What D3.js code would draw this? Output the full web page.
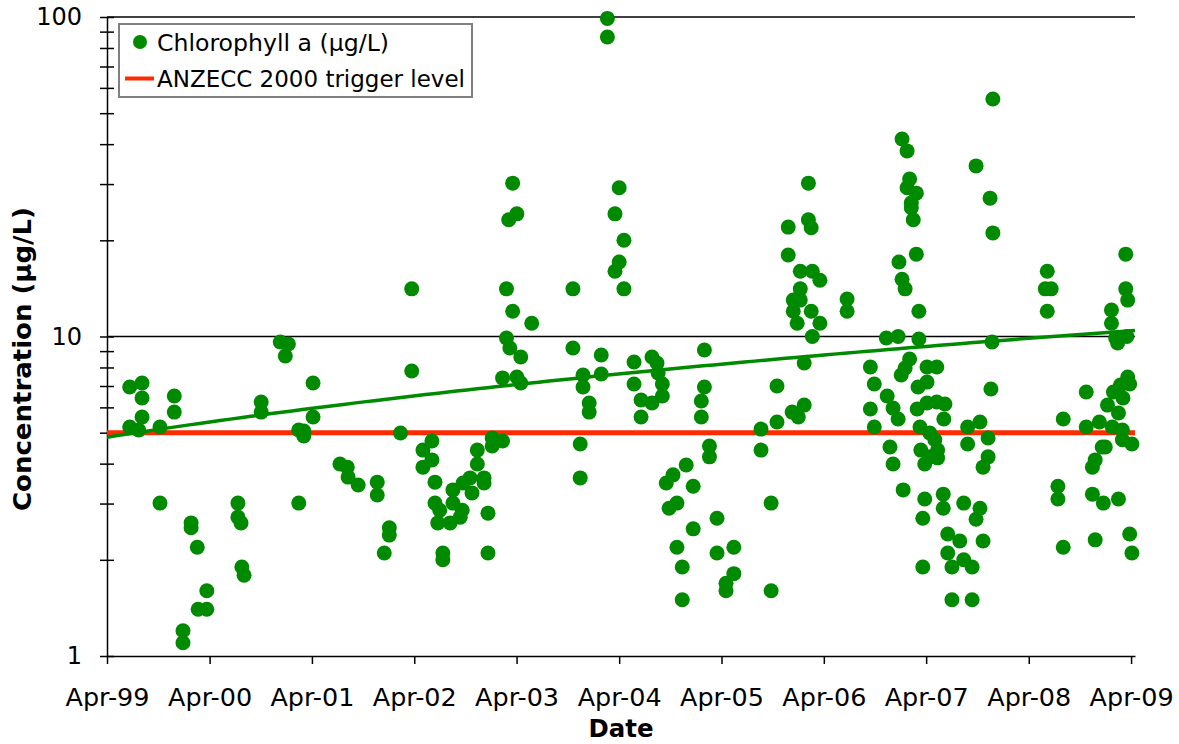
<!DOCTYPE html>
<html>
<head>
<meta charset="utf-8">
<script src="https://cdn.jsdelivr.net/npm/d3@7"></script>
<style>
  body { margin: 0; background: #fff; }
  svg { display: block; }
  text { font-family: "DejaVu Sans", Verdana, sans-serif; fill: #000; }
</style>
</head>
<body>
<svg id="chart" width="1179" height="744"></svg>
<script>
// Chlorophyll a samples: sampling date and concentration (µg/L)
const sampleDates = [
  "1999-06-21","1999-06-21","1999-07-23","1999-08-04","1999-08-04","1999-08-04","1999-10-07","1999-10-07","1999-11-27","1999-11-27",
  "1999-12-28","1999-12-28","2000-01-26","2000-01-26","2000-02-17","2000-02-20","2000-03-22","2000-03-22","2000-07-11","2000-07-11",
  "2000-07-22","2000-07-25","2000-08-02","2000-10-02","2000-10-02","2000-12-09","2001-01-07","2000-12-27","2001-02-13","2001-02-13",
  "2001-03-03","2001-03-03","2001-04-05","2001-04-05",
  "2001-07-10","2001-08-05","2001-08-08","2001-09-13","2001-11-20","2001-11-20","2001-12-15","2002-01-02","2002-01-02","2002-02-11",
  "2002-03-23","2002-03-23","2002-05-02","2002-05-02","2002-06-03","2002-06-03","2002-06-14","2002-06-14","2002-06-24","2002-07-01",
  "2002-07-12","2002-07-12","2002-08-07","2002-08-17","2002-08-17","2002-09-12","2002-09-19","2002-09-22","2002-10-17","2002-10-24",
  "2002-11-12","2002-11-12","2002-12-06","2002-12-06","2002-12-20","2002-12-20","2003-01-04","2003-01-04","2003-02-10","2003-02-10",
  "2003-02-24","2003-02-24","2003-03-08","2003-03-04","2003-03-18","2003-03-18","2003-04-02","2003-04-02","2003-04-16","2003-04-16",
  "2003-05-25",
  "2003-10-19","2003-10-19","2003-11-14","2003-11-14","2003-11-24","2003-11-24","2003-12-16","2003-12-16","2004-01-28","2004-01-28",
  "2004-02-19","2004-02-19","2004-03-17","2004-03-17","2004-04-01","2004-04-01","2004-04-18","2004-04-18","2004-05-24","2004-05-24",
  "2004-06-18","2004-06-18","2004-07-27","2004-07-27","2004-08-14","2004-08-18","2004-09-02","2004-09-02","2004-09-16","2004-09-26",
  "2004-10-10","2004-10-24","2004-10-24","2004-11-12","2004-11-12","2004-11-26","2004-12-21","2004-12-21","2005-01-19","2005-01-19",
  "2005-01-30","2005-01-30","2005-02-17","2005-02-17","2005-03-16","2005-03-16","2005-04-17","2005-04-17","2005-05-15","2005-05-15",
  "2005-08-20","2005-08-20","2005-09-25","2005-09-25","2005-10-16","2005-10-16","2005-11-25","2005-11-25","2005-12-09","2005-12-13",
  "2005-12-13","2005-12-27","2005-12-31","2006-01-07","2006-01-07","2006-01-07","2006-01-21","2006-01-21","2006-02-05","2006-02-05",
  "2006-02-15","2006-02-15","2006-02-19","2006-02-19","2006-03-18","2006-03-18","2006-06-23","2006-06-23",
  "2006-09-14","2006-09-28","2006-09-14","2006-09-28","2006-11-10","2006-11-13","2006-11-23","2006-12-04","2006-12-04","2006-12-22",
  "2006-12-22","2006-12-25","2007-01-02","2007-01-05","2007-01-05","2007-01-16","2007-01-09","2007-01-16","2007-01-23","2007-01-23",
  "2007-02-01","2007-02-01","2007-02-07","2007-02-07","2007-02-14","2007-02-25","2007-02-25","2007-02-28","2007-03-03","2007-03-06",
  "2007-03-06","2007-03-10","2007-03-13","2007-03-20","2007-03-20","2007-03-27","2007-03-27","2007-04-04","2007-04-04","2007-04-04",
  "2007-04-14","2007-04-14","2007-05-02","2007-05-09","2007-05-09","2007-05-12","2007-05-12","2007-06-01","2007-06-01","2007-06-03",
  "2007-06-07","2007-06-17","2007-06-17","2007-07-02","2007-07-02","2007-07-30","2007-08-13","2007-08-13","2007-08-27","2007-08-27",
  "2007-09-12","2007-09-12","2007-09-26","2007-09-26","2007-10-10","2007-10-10","2007-10-21","2007-10-21","2007-11-08","2007-11-08",
  "2007-11-15","2007-11-18","2007-11-22","2007-11-25","2007-11-25",
  "2008-06-06","2008-05-30","2008-06-20","2008-06-06","2008-07-14","2008-07-14","2008-08-02","2008-08-02","2008-10-23","2008-10-23",
  "2008-11-14","2008-11-14","2008-11-24","2008-11-24","2008-12-09","2008-12-19","2008-12-23","2008-12-30","2009-01-07","2009-01-21",
  "2009-01-21","2009-01-24","2009-01-28","2009-02-05","2009-02-12","2009-02-15","2009-02-15","2009-02-22","2009-03-01","2009-03-01",
  "2009-03-03","2009-03-13","2009-03-13","2009-03-17","2009-03-20","2009-03-20","2009-03-27","2009-03-27","2009-04-04","2009-04-04"
];
const chlorophyll = [
  6.95,5.21,5.10,7.15,6.42,5.60,5.21,3.01,6.51,5.80,
  1.20,1.10,2.61,2.52,2.19,1.40,1.40,1.60,3.01,2.72,
  2.61,1.90,1.79,6.24,5.80,9.61,9.47,8.69,5.10,3.01,
  5.06,4.88,7.15,5.60,
  3.99,3.90,3.63,3.43,3.50,3.19,2.10,2.52,2.39,4.99,
  14.1,7.80,4.41,3.90,4.71,4.11,3.50,3.01,2.61,2.86,
  2.10,2.00,2.61,3.31,3.01,2.72,2.86,3.48,3.61,3.24,
  4.41,3.99,3.61,3.48,2.80,2.10,4.81,4.54,4.71,7.42,
  14.1,9.89,9.20,23.2,30.2,12.0,24.2,7.47,8.63,7.15,
  11.0,
  14.1,9.20,4.61,3.61,7.58,6.95,6.19,5.80,8.75,7.63,
  99.0,86.6,24.2,16.0,29.2,17.1,20.0,14.1,8.32,7.10,
  6.33,5.60,8.63,6.19,8.26,7.69,7.10,6.51,3.48,2.90,
  3.69,3.01,2.19,1.90,1.50,3.96,3.40,2.50,6.28,5.60,
  6.95,9.07,4.54,4.20,2.70,2.10,1.69,1.60,2.19,1.81,
  5.13,4.41,3.01,1.60,7.00,5.40,22.0,18.0,5.80,13.0,
  12.0,11.0,5.60,16.0,14.1,13.0,8.26,6.10,30.2,23.2,
  21.9,12.0,16.0,10.0,15.0,11.0,13.1,12.0,
  8.03,7.10,5.93,5.21,9.89,6.51,4.51,5.97,3.99,10.0,
  5.52,17.1,7.58,41.5,15.1,7.97,3.31,14.1,38.1,29.2,
  31.1,8.50,26.2,25.3,23.2,28.1,18.1,5.93,6.95,12.0,
  9.82,5.21,4.41,2.70,1.90,3.99,3.10,8.03,7.20,6.19,
  4.99,4.20,4.75,8.03,6.24,4.41,4.17,3.21,2.90,5.52,
  6.15,2.41,2.10,1.90,1.50,2.29,3.01,2.00,5.21,4.61,
  1.90,1.50,34.2,2.68,5.40,2.90,3.90,2.29,4.81,4.20,
  27.1,6.85,9.61,55.4,21.1,
  16.0,14.1,14.1,12.0,3.40,3.10,5.52,2.19,6.70,5.21,
  3.90,3.21,4.11,2.31,5.40,4.51,3.01,4.51,6.10,12.1,
  11.0,5.21,6.70,9.89,9.54,5.76,3.10,7.05,5.10,4.75,
  6.42,18.1,14.1,10.0,13.0,7.47,7.10,2.41,4.61,2.10
];

// ANZECC 2000 trigger level (µg/L)
const triggerLevel = 5;
// Linear trend of concentration over the record: start and end values
const trendDates = ["1999-04-01", "2009-04-15"];
const trendValues = [4.84, 10.45];

// Axis settings
const xDomainDates = ["1999-04-01", "2009-04-15"];
const xTickDates = ["1999-04-01","2000-04-01","2001-04-01","2002-04-01","2003-04-01","2004-04-01",
                    "2005-04-01","2006-04-01","2007-04-01","2008-04-01","2009-04-01"];
const yMajorTicks = [1, 10, 100];
const yMinorTicks = [2,3,4,5,6,7,8,9,20,30,40,50,60,70,80,90];

const seriesLabels = ["Chlorophyll a (µg/L)", "ANZECC 2000 trigger level"];
const axisTitles = ["Date", "Concentration (µg/L)"];

const GREEN = "#008a00";
const RED = "#ff2a00";
const FONT = "'DejaVu Sans', Verdana, sans-serif";

const parse = d3.timeParse("%Y-%m-%d");
const plot = { left: 107, right: 1135, top: 17, bottom: 656 };

const x = d3.scaleTime().domain(xDomainDates.map(parse)).range([plot.left, plot.right]);
const y = d3.scaleLog().domain([1, 100]).range([plot.bottom, plot.top]);

const svg = d3.select("#chart");

// Horizontal grid lines at the decades
svg.append("g")
  .selectAll("line")
  .data(yMajorTicks.filter(v => v > 1))
  .join("line")
  .attr("x1", plot.left).attr("x2", plot.right)
  .attr("y1", d => y(d)).attr("y2", d => y(d))
  .attr("stroke", "#000").attr("stroke-width", 1.5);

// Y axis: major ticks with labels, crossing the axis line
const yAxisG = svg.append("g")
  .attr("transform", `translate(${plot.left},0)`)
  .call(d3.axisLeft(y).tickValues(yMajorTicks).tickFormat(d3.format("d"))
        .tickSize(7).tickSizeOuter(0).tickPadding(18));
yAxisG.selectAll(".tick line").attr("x1", 7).attr("x2", -7).attr("stroke-width", 1.5);
yAxisG.select(".domain").attr("stroke-width", 1.5);
yAxisG.selectAll(".tick text")
  .style("font-family", FONT)
  .style("font-size", "24px");

// Y axis: minor ticks
const yMinorG = svg.append("g")
  .attr("transform", `translate(${plot.left},0)`)
  .call(d3.axisLeft(y).tickValues(yMinorTicks).tickFormat("").tickSize(7).tickSizeOuter(0));
yMinorG.selectAll(".tick line").attr("x1", 7).attr("x2", -7).attr("stroke-width", 1.5);
yMinorG.select(".domain").remove();

// X axis
const xAxisG = svg.append("g")
  .attr("transform", `translate(0,${plot.bottom})`)
  .call(d3.axisBottom(x).tickValues(xTickDates.map(parse))
        .tickFormat(d3.timeFormat("%b-%y")).tickSize(8).tickSizeOuter(0).tickPadding(24));
xAxisG.select(".domain").attr("stroke-width", 1.5);
xAxisG.selectAll(".tick line").attr("stroke-width", 1.5);
xAxisG.selectAll(".tick text")
  .style("font-family", FONT)
  .style("font-size", "25px")
  .attr("textLength", 84)
  .attr("lengthAdjust", "spacingAndGlyphs");

// Trigger level line
svg.append("line")
  .attr("x1", x(parse(xDomainDates[0]))).attr("x2", x(parse(xDomainDates[1])))
  .attr("y1", y(triggerLevel)).attr("y2", y(triggerLevel))
  .attr("stroke", RED).attr("stroke-width", 5);

// Linear trend (straight in concentration, so it bends on the log axis)
const t0 = parse(trendDates[0]), t1 = parse(trendDates[1]);
const trendAt = d3.interpolateNumber(trendValues[0], trendValues[1]);
const trendPts = d3.range(0, 101).map(i => {
  const f = i / 100;
  return { date: new Date(+t0 + f * (t1 - t0)), value: trendAt(f) };
});
svg.append("path")
  .datum(trendPts)
  .attr("fill", "none")
  .attr("stroke", GREEN)
  .attr("stroke-width", 3.5)
  .attr("d", d3.line().x(d => x(d.date)).y(d => y(d.value)));

// Sample points
const samples = sampleDates.map((d, i) => ({ date: parse(d), value: chlorophyll[i] }));
svg.append("g")
  .selectAll("circle")
  .data(samples)
  .join("circle")
  .attr("cx", d => x(d.date))
  .attr("cy", d => y(d.value))
  .attr("r", 7.5)
  .attr("fill", GREEN);

// Axis titles
svg.append("text")
  .attr("x", (plot.left + plot.right) / 2)
  .attr("y", 737)
  .attr("text-anchor", "middle")
  .attr("textLength", 65)
  .attr("lengthAdjust", "spacingAndGlyphs")
  .style("font-size", "24px")
  .style("font-weight", "bold")
  .text(axisTitles[0]);

svg.append("text")
  .attr("transform", "translate(31,359) rotate(-90)")
  .attr("text-anchor", "middle")
  .attr("textLength", 304)
  .attr("lengthAdjust", "spacingAndGlyphs")
  .style("font-size", "24px")
  .style("font-weight", "bold")
  .text(axisTitles[1]);

// Legend
const legend = svg.append("g");
legend.append("rect")
  .attr("x", 119).attr("y", 24).attr("width", 353).attr("height", 73)
  .attr("fill", "#fff").attr("stroke", "#808080").attr("stroke-width", 2);
legend.append("circle")
  .attr("cx", 140).attr("cy", 42).attr("r", 7).attr("fill", GREEN);
legend.append("text")
  .attr("x", 157).attr("y", 51)
  .style("font-size", "23px")
  .attr("textLength", 232)
  .attr("lengthAdjust", "spacingAndGlyphs")
  .text(seriesLabels[0]);
legend.append("line")
  .attr("x1", 125).attr("x2", 154).attr("y1", 78.5).attr("y2", 78.5)
  .attr("stroke", RED).attr("stroke-width", 4);
legend.append("text")
  .attr("x", 157).attr("y", 87)
  .style("font-size", "23px")
  .attr("textLength", 308)
  .attr("lengthAdjust", "spacingAndGlyphs")
  .text(seriesLabels[1]);
</script>
</body>
</html>
